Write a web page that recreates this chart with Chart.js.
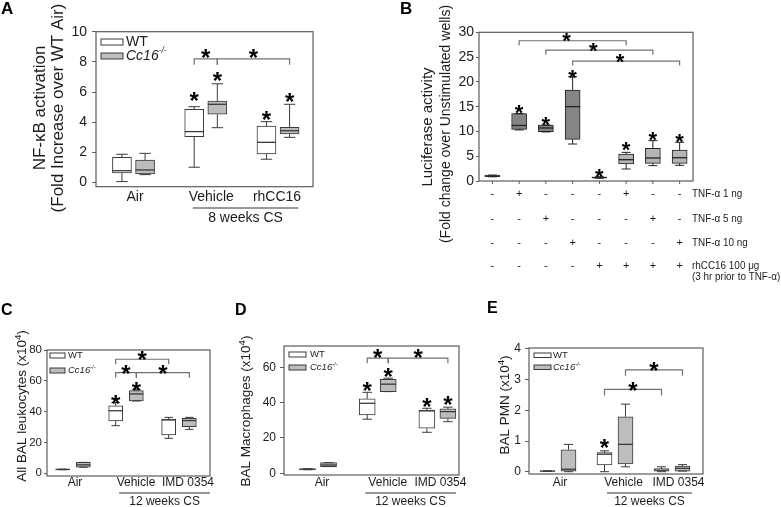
<!DOCTYPE html>
<html>
<head>
<meta charset="utf-8">
<script src="https://cdn.jsdelivr.net/npm/chart.js@4.4.1/dist/chart.umd.min.js"></script>
<style>
  html, body { margin: 0; padding: 0; background: #fff; }
  body { position: relative; width: 781px; height: 507px; overflow: hidden; }
  canvas { position: absolute; }
</style>
</head>
<body>
<canvas id="cA" width="390" height="300" style="left:0;top:0"></canvas>
<canvas id="cB" width="391" height="300" style="left:390px;top:0"></canvas>
<canvas id="cC" width="255" height="207" style="left:0;top:300px"></canvas>
<canvas id="cD" width="250" height="207" style="left:230px;top:300px"></canvas>
<canvas id="cE" width="301" height="207" style="left:480px;top:300px"></canvas>
<script>
// box stats everywhere: [min, q1, median, q3, max]

// A - NF-kB activation
const groupsA = ['Air', 'Vehicle', 'rhCC16'];
const wtA = [[0.07, 0.64, 0.79, 1.68, 1.88], [1.02, 3.05, 3.38, 4.86, 5.03], [1.55, 1.90, 2.67, 3.75, 4.04]];
const koA = [[0.53, 0.57, 0.84, 1.50, 1.94], [3.64, 4.53, 5.19, 5.41, 6.55], [3.00, 3.22, 3.44, 3.66, 5.19]];
const starWtA = [null, 5.8, 4.5];
const starKoA = [null, 7.1, 5.75];
// [group, series, group, series, height]  (series 0 = WT, 1 = Cc16-/-)
const bracketsA = [[1, 0, 1, 1, 8.2], [1, 1, 2, 1, 8.2]];
const yTicksA = [0, 2, 4, 6, 8, 10];

// B - luciferase
const boxesB = [[0.85, 0.85, 1.0, 1.2, 1.2], [10.3, 10.4, 11.2, 13.6, 13.6], [9.9, 9.95, 10.7, 11.3, 11.3],
  [7.46, 8.4, 15.0, 18.36, 21.05], [0.55, 0.6, 0.7, 0.8, 0.85], [2.42, 3.43, 4.3, 5.45, 5.78],
  [3.1, 3.56, 4.64, 6.6, 8.14], [3.16, 3.56, 4.7, 6.25, 7.8]];
const starsB = [null, 14.9, 12.4, 21.8, 1.9, 7.3, 9.3, 8.9];
// [column, column, height]
const bracketsB = [[1, 5, 28.3], [2, 6, 26.4], [3, 7, 24.2]];
const yTicksB = [0, 5, 10, 15, 20, 25, 30];
const rowLabelsB = ['TNF-\u03b1 1 ng', 'TNF-\u03b1 5 ng', 'TNF-\u03b1 10 ng', 'rhCC16 100 \u03bcg'];
const tnf1B = ['-', '+', '-', '-', '-', '+', '-', '-'];
const tnf5B = ['-', '-', '+', '-', '-', '-', '+', '-'];
const tnf10B = ['-', '-', '-', '+', '-', '-', '-', '+'];
const rhcc16B = ['-', '-', '-', '-', '+', '+', '+', '+'];

// C, D, E - 12 weeks CS
const groupsCS = ['Air', 'Vehicle', 'IMD 0354'];
const wtC = [[2.3, 2.3, 2.5, 2.7, 2.7], [30.9, 34.0, 40.6, 43.7, 45.8], [22.7, 24.9, 34.6, 35.2, 36.3]];
const koC = [[3.9, 3.9, 5.5, 7.1, 7.1], [46.9, 46.9, 51.5, 53.6, 54.5], [28.5, 30.3, 34.2, 35.7, 36.3]];
const starWtC = [null, 48.6, null];
const starKoC = [null, 57.3, null];
const bracketsC = [[1, 0, 2, 0, 74], [1, 0, 1, 1, 65.3], [1, 1, 2, 1, 65.3]];
const yTicksC = [0, 10, 20, 30, 40, 50, 60, 70, 80];

const wtD = [[2.0, 2.1, 2.3, 2.5, 2.6], [30.6, 33.0, 39.6, 42.1, 45.8], [23.2, 25.5, 35.3, 35.8, 36.8]];
const koD = [[3.8, 3.8, 4.7, 6.0, 6.0], [46.2, 46.2, 50.4, 53.2, 53.8], [29.2, 31.1, 34.9, 36.4, 37.4]];
const starWtD = [null, 50, 40.9];
const starKoD = [null, 57.5, 41.9];
const bracketsD = [[1, 0, 1, 1, 65.1], [1, 1, 2, 1, 65.1]];
const yTicksD = [0, 20, 40, 60];

const wtE = [[0.01, 0.01, 0.02, 0.03, 0.03], [0, 0.22, 0.57, 0.62, 0.68], [0, 0, 0.05, 0.1, 0.16]];
const koE = [[0, 0.02, 0.08, 0.71, 0.89], [0.16, 0.25, 0.89, 1.79, 2.2], [0.02, 0.02, 0.11, 0.18, 0.23]];
const starWtE = [null, 0.95, null];
const starKoE = [null, null, null];
const bracketsE = [[1, 0, 2, 0, 2.68], [1, 1, 2, 1, 3.32]];
const yTicksE = [0, 1, 2, 3, 4];

// ---------- styling / helpers ----------
const FONT = '"Liberation Sans", Arial, Helvetica, sans-serif';
const INK = '#1c1c1c';
const EDGE = '#3a3a3a';
const FRAME = '#5c5c5c';
const BRACKET = '#707070';
const WT_FILL = '#ffffff';
const KO_FILL = '#bdbdbd';
Chart.defaults.font.family = FONT;
Chart.defaults.color = INK;

const f = (size, style) => (style ? style + ' ' : '') + size + 'px ' + FONT;

function runs(ctx, parts, x, y, align) {
  let total = 0;
  parts.forEach(p => { ctx.font = p[1]; total += ctx.measureText(p[0]).width; });
  let cx = align === 'center' ? x - total / 2 : x;
  ctx.textAlign = 'left';
  ctx.textBaseline = 'middle';
  parts.forEach(p => {
    ctx.font = p[1];
    ctx.fillText(p[0], cx, y + (p[2] || 0));
    cx += ctx.measureText(p[0]).width;
  });
}

function vruns(ctx, parts, x, y) {
  ctx.save();
  ctx.translate(x, y);
  ctx.rotate(-Math.PI / 2);
  runs(ctx, parts, 0, 0, 'center');
  ctx.restore();
}

function whiskers(ctx, el, b, y, color) {
  const cx = el.x, hw = el.width / 2, cap = hw * 0.6;
  ctx.strokeStyle = color;
  ctx.lineWidth = 1;
  ctx.beginPath();
  const p = b.map(v => y.getPixelForValue(v));
  ctx.moveTo(cx, p[3]); ctx.lineTo(cx, p[4]);
  ctx.moveTo(cx - cap, p[4]); ctx.lineTo(cx + cap, p[4]);
  ctx.moveTo(cx, p[1]); ctx.lineTo(cx, p[0]);
  ctx.moveTo(cx - cap, p[0]); ctx.lineTo(cx + cap, p[0]);
  ctx.stroke();
  ctx.lineWidth = 1.3;
  ctx.beginPath();
  ctx.moveTo(cx - hw, p[2]); ctx.lineTo(cx + hw, p[2]);
  ctx.stroke();
}

function star(ctx, x, yc, size) {
  ctx.fillStyle = '#000';
  ctx.font = f(size, 'bold');
  ctx.textAlign = 'center';
  ctx.textBaseline = 'alphabetic';
  ctx.fillText('*', x, yc + 0.57 * size);
}

function bracket(ctx, x1, x2, yb, drop, gap, size, shift) {
  ctx.strokeStyle = BRACKET;
  ctx.lineWidth = 1.2;
  ctx.beginPath();
  ctx.moveTo(x1, yb + drop); ctx.lineTo(x1, yb); ctx.lineTo(x2, yb); ctx.lineTo(x2, yb + drop);
  ctx.stroke();
  star(ctx, (x1 + x2) / 2 + (shift || 0), yb - gap, size);
}

function frame(ctx, ca) {
  ctx.strokeStyle = FRAME;
  ctx.lineWidth = 1.2;
  ctx.strokeRect(ca.left, ca.top, ca.right - ca.left, ca.bottom - ca.top);
}

function yScale(L, ticks) {
  return {
    min: L.yMin, max: L.yMax,
    afterBuildTicks: s => { s.ticks = ticks.map(v => ({ value: v })); },
    afterFit: s => { s.width = L.area.l; s.paddingTop = 0; s.paddingBottom = 0; },
    border: { display: false },
    grid: { drawOnChartArea: false, tickLength: L.tickLen, color: FRAME, lineWidth: 1 },
    ticks: { font: { size: L.tickFont }, color: INK, padding: L.tickPad, callback: v => String(v) }
  };
}

function baseOptions(L, el, ticks) {
  return {
    responsive: false, animation: false, devicePixelRatio: 1,
    layout: { autoPadding: false, padding: { left: 0, top: L.area.t, right: el.width - L.area.r, bottom: el.height - L.area.b } },
    plugins: { legend: { display: false }, tooltip: { enabled: false } },
    scales: {
      x: { type: 'linear', display: false, offset: false, min: L.xMin, max: L.xMax },
      y: yScale(L, ticks)
    }
  };
}

// ---------- grouped WT / Cc16 box panels ----------
function boxPanel(id, d, L) {
  const el = document.getElementById(id);
  const series = [d.wt, d.ko];
  const datasets = series.map((ser, s) => ({
    data: ser.map((b, i) => ({ x: i + 1 + (s ? L.off : -L.off), y: [b[1], b[3]] })),
    backgroundColor: s ? KO_FILL : WT_FILL,
    borderColor: EDGE, borderWidth: 1, borderSkipped: false,
    barThickness: L.thick, grouped: false
  }));

  const extras = {
    id: 'extras',
    afterDraw(chart) {
      const { ctx, chartArea: ca, scales: { x, y } } = chart;
      ctx.save();
      series.forEach((ser, s) => {
        const meta = chart.getDatasetMeta(s);
        ser.forEach((b, i) => whiskers(ctx, meta.data[i], b, y, EDGE));
      });
      [d.starWt, d.starKo].forEach((st, s) => {
        const meta = chart.getDatasetMeta(s);
        st.forEach((v, i) => { if (v != null) star(ctx, meta.data[i].x, y.getPixelForValue(v), L.star); });
      });
      d.brackets.forEach(br => {
        const x1 = chart.getDatasetMeta(br[1]).data[br[0]].x;
        const x2 = chart.getDatasetMeta(br[3]).data[br[2]].x;
        bracket(ctx, x1, x2, y.getPixelForValue(br[4]), L.drop, L.gap, L.star);
      });
      frame(ctx, ca);

      // legend keys
      const lg = L.legend;
      ctx.lineWidth = 1; ctx.strokeStyle = EDGE;
      ctx.fillStyle = WT_FILL; ctx.fillRect(lg.x, lg.y1, lg.w, lg.h); ctx.strokeRect(lg.x, lg.y1, lg.w, lg.h);
      ctx.fillStyle = KO_FILL; ctx.fillRect(lg.x, lg.y2, lg.w, lg.h); ctx.strokeRect(lg.x, lg.y2, lg.w, lg.h);
      ctx.fillStyle = INK;
      runs(ctx, [['WT', f(lg.size)]], lg.tx, lg.y1 + lg.h / 2);
      runs(ctx, [['Cc16', f(lg.size, 'italic')], ['-/-', f(lg.size * 0.6, 'italic'), -lg.size * 0.35]], lg.tx, lg.y2 + lg.h / 2);

      // category labels, CS underline
      d.groups.forEach((g, i) => {
        runs(ctx, [[g, f(L.labelFont)]], x.getPixelForValue(i + 1) + L.shift[i], L.labelY, 'center');
      });
      const u = L.under;
      const ux1 = x.getPixelForValue(u.from), ux2 = x.getPixelForValue(u.to);
      ctx.strokeStyle = '#333'; ctx.lineWidth = 1;
      ctx.beginPath(); ctx.moveTo(ux1, u.y); ctx.lineTo(ux2, u.y); ctx.stroke();
      runs(ctx, [[u.text, f(L.labelFont)]], (ux1 + ux2) / 2, u.ty, 'center');

      // axis title(s) and panel letter
      L.titles.forEach(t => vruns(ctx, t.parts, t.x, t.y));
      ctx.fillStyle = '#000';
      ctx.font = f(L.letter.size, 'bold');
      ctx.textAlign = 'left'; ctx.textBaseline = 'top';
      ctx.fillText(L.letter.t, L.letter.x, L.letter.y);
      ctx.restore();
    }
  };

  new Chart(el, { type: 'bar', data: { datasets }, options: baseOptions(L, el, d.ticks), plugins: [extras] });
}

const sup = (pre, size) => [[pre, f(size)], ['4', f(size * 0.72), -size * 0.3], [')', f(size)]];

boxPanel('cA', { groups: groupsA, wt: wtA, ko: koA, starWt: starWtA, starKo: starKoA, brackets: bracketsA, ticks: yTicksA }, {
  area: { l: 96, t: 31.7, r: 313, b: 186.7 }, yMin: -0.27, yMax: 10, xMin: 0.481, xMax: 3.484,
  tickFont: 14, tickLen: 4, tickPad: 5, off: 0.16, thick: 19, star: 24, drop: 6, gap: 6.5,
  shift: [1.5, 5.5, -1], labelY: 197, labelFont: 14,
  legend: { x: 101, y1: 39, y2: 53, w: 22, h: 6, tx: 126, size: 14 },
  under: { from: 1.82, to: 3.28, y: 208, ty: 218, text: '8 weeks CS' },
  titles: [{ parts: [['NF-\u03baB activation', f(17)]], x: 40, y: 108 },
           { parts: [['(Fold Increase over WT Air)', f(17)]], x: 58, y: 108 }],
  letter: { t: 'A', x: 1, y: 1, size: 17 }
});

boxPanel('cC', { groups: groupsCS, wt: wtC, ko: koC, starWt: starWtC, starKo: starKoC, brackets: bracketsC, ticks: yTicksC }, {
  area: { l: 47, t: 50, r: 210, b: 176 }, yMin: -1.75, yMax: 80, xMin: 0.509, xMax: 3.585,
  tickFont: 11.5, tickLen: 3, tickPad: 2, off: 0.195, thick: 14, star: 24, drop: 5, gap: 4.5,
  shift: [2, 10, 9], labelY: 183, labelFont: 12,
  legend: { x: 50, y1: 53, y2: 68, w: 15, h: 5, tx: 68, size: 9.5 },
  under: { from: 1.87, to: 3.585, y: 193, ty: 201.5, text: '12 weeks CS' },
  titles: [{ parts: sup('All BAL leukocytes (x10', 13.5), x: 22, y: 106 }],
  letter: { t: 'C', x: 1, y: 3, size: 16 }
});

boxPanel('cD', { groups: groupsCS, wt: wtD, ko: koD, starWt: starWtD, starKo: starKoD, brackets: bracketsD, ticks: yTicksD }, {
  area: { l: 54, t: 46, r: 229, b: 175 }, yMin: -0.96, yMax: 72, xMin: 0.430, xMax: 3.362,
  tickFont: 12, tickLen: 4, tickPad: 4, off: 0.176, thick: 16, star: 24, drop: 5, gap: 5.5,
  shift: [4, 10, 3], labelY: 183, labelFont: 12,
  legend: { x: 59, y1: 52, y2: 65, w: 17, h: 5, tx: 80, size: 9.5 },
  under: { from: 1.79, to: 3.31, y: 193, ty: 201.5, text: '12 weeks CS' },
  titles: [{ parts: sup('BAL Macrophages (x10', 13.5), x: 16, y: 111 }],
  letter: { t: 'D', x: 5, y: 3, size: 16 }
});

boxPanel('cE', { groups: groupsCS, wt: wtE, ko: koE, starWt: starWtE, starKo: starKoE, brackets: bracketsE, ticks: yTicksE }, {
  area: { l: 49, t: 48, r: 223, b: 174 }, yMin: -0.075, yMax: 4.03, xMin: 0.491, xMax: 3.544,
  tickFont: 12, tickLen: 4, tickPad: 4, off: 0.184, thick: 15, star: 24, drop: 6, gap: 4.5,
  shift: [2, 8.5, 6.5], labelY: 183, labelFont: 12,
  legend: { x: 54, y1: 53, y2: 65, w: 17, h: 4.5, tx: 73, size: 9.5 },
  under: { from: 1.86, to: 3.35, y: 193, ty: 201.5, text: '12 weeks CS' },
  titles: [{ parts: sup('BAL PMN (x10', 13.5), x: 25, y: 105 }],
  letter: { t: 'E', x: 7, y: 1, size: 16 }
});

// ---------- B: single series, 8 conditions ----------
(function panelB() {
  const el = document.getElementById('cB');
  const L = {
    area: { l: 89, t: 32.3, r: 303, b: 181 }, yMin: 0, yMax: 30, xMin: 0.5, xMax: 8.5,
    tickFont: 14, tickLen: 3, tickPad: 2
  };
  const rows = [tnf1B, tnf5B, tnf10B, rhcc16B];
  const rowY = [194, 219, 243, 266];
  const extras = {
    id: 'extrasB',
    afterDraw(chart) {
      const { ctx, chartArea: ca, scales: { y } } = chart;
      const meta = chart.getDatasetMeta(0);
      ctx.save();
      boxesB.forEach((b, i) => whiskers(ctx, meta.data[i], b, y, '#222'));
      starsB.forEach((v, i) => { if (v != null) star(ctx, meta.data[i].x, y.getPixelForValue(v), 22); });
      bracketsB.forEach(br => bracket(ctx, meta.data[br[0]].x, meta.data[br[1]].x, y.getPixelForValue(br[2]), 4.5, 5, 22, -6));
      frame(ctx, ca);
      // x tick marks
      ctx.strokeStyle = FRAME; ctx.lineWidth = 1;
      ctx.beginPath();
      meta.data.forEach(e => { ctx.moveTo(e.x, ca.bottom); ctx.lineTo(e.x, ca.bottom + 3); });
      ctx.stroke();
      // treatment table
      ctx.fillStyle = INK;
      rows.forEach((row, r) => {
        row.forEach((s, i) => runs(ctx, [[s, f(11)]], meta.data[i].x, rowY[r], 'center'));
        ctx.save();
        ctx.translate(302, rowY[r]);
        ctx.scale(0.9, 1);
        runs(ctx, [[rowLabelsB[r], f(11)]], 0, 0);
        ctx.restore();
      });
      ctx.save();
      ctx.translate(302, 277);
      ctx.scale(0.9, 1);
      runs(ctx, [['(3 hr prior to TNF-\u03b1)', f(11)]], 0, 0);
      ctx.restore();
      // titles
      vruns(ctx, [['Luciferase activity', f(15)]], 38, 127);
      vruns(ctx, [['(Fold change over Unstimulated wells)', f(14)]], 56, 124);
      ctx.fillStyle = '#000';
      ctx.font = f(17, 'bold');
      ctx.textAlign = 'left'; ctx.textBaseline = 'top';
      ctx.fillText('B', 10, 1);
      ctx.restore();
    }
  };
  new Chart(el, {
    type: 'bar',
    data: {
      datasets: [{
        data: boxesB.map((b, i) => ({ x: i + 1, y: [b[1], b[3]] })),
        backgroundColor: boxesB.map((b, i) => (i < 4 ? '#858585' : '#b4b4b4')),
        borderColor: '#222', borderWidth: 1, borderSkipped: false,
        barThickness: 15, grouped: false
      }]
    },
    options: baseOptions(L, el, yTicksB),
    plugins: [extras]
  });
})();
</script>
</body>
</html>
